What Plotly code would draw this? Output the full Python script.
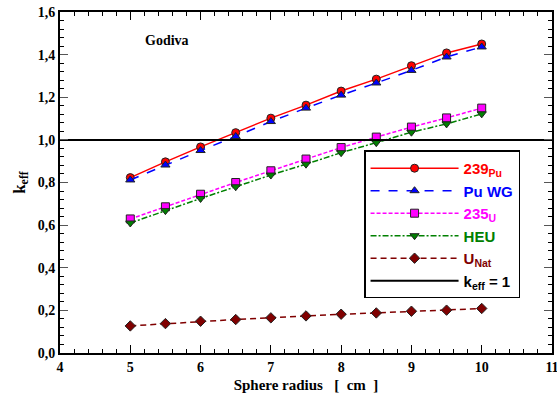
import plotly.graph_objects as go

radius = [5.0, 5.5, 6.0, 6.5, 7.0, 7.5, 8.0, 8.5, 9.0, 9.5, 10.0]
pu239 = [0.823, 0.897, 0.967, 1.034, 1.102, 1.163, 1.229, 1.285, 1.348, 1.408, 1.450]
pu_wg = [0.812, 0.882, 0.950, 1.016, 1.086, 1.149, 1.210, 1.267, 1.326, 1.389, 1.436]
u235 = [0.629, 0.686, 0.745, 0.800, 0.855, 0.910, 0.964, 1.013, 1.060, 1.103, 1.149]
heu = [0.610, 0.668, 0.725, 0.780, 0.835, 0.886, 0.940, 0.987, 1.036, 1.075, 1.122]
unat = [0.127, 0.138, 0.149, 0.157, 0.165, 0.174, 0.182, 0.188, 0.196, 0.201, 0.209]
keff_line_x = [4, 11]
keff_line_y = [1.0, 1.0]

y_ticks = [0.0, 0.2, 0.4, 0.6, 0.8, 1.0, 1.2, 1.4, 1.6]
y_tick_labels = ["0,0", "0,2", "0,4", "0,6", "0,8", "1,0", "1,2", "1,4", "1,6"]
x_ticks = [4, 5, 6, 7, 8, 9, 10, 11]

series = [
    ("239<sub>Pu</sub>", pu239, "#FF0000", "solid", "circle"),
    ("Pu WG", pu_wg, "#0000FF", "dash", "triangle-up"),
    ("235<sub>U</sub>", u235, "#FF00FF", "4px,2px", "square"),
    ("HEU", heu, "#008000", "6px,2px,2px,2px", "triangle-down"),
    ("U<sub>Nat</sub>", unat, "#800000", "6px,4px", "diamond"),
]

fig = go.Figure()
for name, vals, color, dash, sym in series:
    fig.add_trace(go.Scatter(
        x=radius, y=vals, mode="lines+markers",
        name=f'<span style="color:{color}"><b>{name}</b></span>',
        line=dict(color=color, width=1.5, dash=dash),
        marker=dict(symbol=sym, size=8, color=color, line=dict(color="#222222", width=1)),
    ))

fig.add_trace(go.Scatter(
    x=keff_line_x, y=keff_line_y, mode="lines",
    name="<b>k<sub>eff</sub> = 1</b>",
    line=dict(color="black", width=2),
))

fig.add_annotation(x=0.168, y=0.915, xref="paper", yref="paper", text="<b>Godiva</b>",
                   showarrow=False, xanchor="left", yanchor="middle",
                   font=dict(family="Liberation Serif", size=14, color="black"))

fig.update_layout(
    width=557, height=400,
    margin=dict(l=60, r=5, t=12, b=47),
    plot_bgcolor="white", paper_bgcolor="white",
    font=dict(family="Liberation Serif", size=13, color="black"),
    legend=dict(
        x=0.618, y=0.594, xanchor="left", yanchor="top",
        bordercolor="black", borderwidth=1.5, bgcolor="white",
        font=dict(family="Liberation Sans", size=15, color="black"),
        itemwidth=88, tracegroupgap=0,
    ),
    showlegend=True,
)

fig.update_xaxes(
    range=[4, 11], tickvals=x_ticks, ticktext=[f"<b>{t}</b>" for t in x_ticks],
    showgrid=False, zeroline=False, showline=True, linecolor="black", linewidth=2,
    mirror="allticks", ticks="inside", ticklen=8, tickwidth=1.2, tickcolor="black",
    minor=dict(dtick=0.2, ticks="inside", ticklen=4, tickwidth=1, tickcolor="black"),
    title=dict(text="<b>Sphere radius   [  cm  ]</b>", font=dict(size=15), standoff=6),
    tickfont=dict(size=14), automargin=False, ticklabeloverflow="allow",
)
fig.update_yaxes(
    range=[0, 1.6], tickvals=y_ticks, ticktext=[f"<b>{t}</b>" for t in y_tick_labels],
    showgrid=False, zeroline=False, showline=True, linecolor="black", linewidth=2,
    mirror="allticks", ticks="inside", ticklen=8, tickwidth=1.2, tickcolor="#555555",
    minor=dict(dtick=0.04, ticks="inside", ticklen=4, tickwidth=1, tickcolor="black"),
    title=dict(text="<b>k<sub>eff</sub></b>", font=dict(size=17), standoff=8),
    tickfont=dict(size=14), automargin=False, ticklabeloverflow="allow",
)

fig.write_html("out.html", config={"displayModeBar": False},
               post_script="document.body.style.margin='0';")
